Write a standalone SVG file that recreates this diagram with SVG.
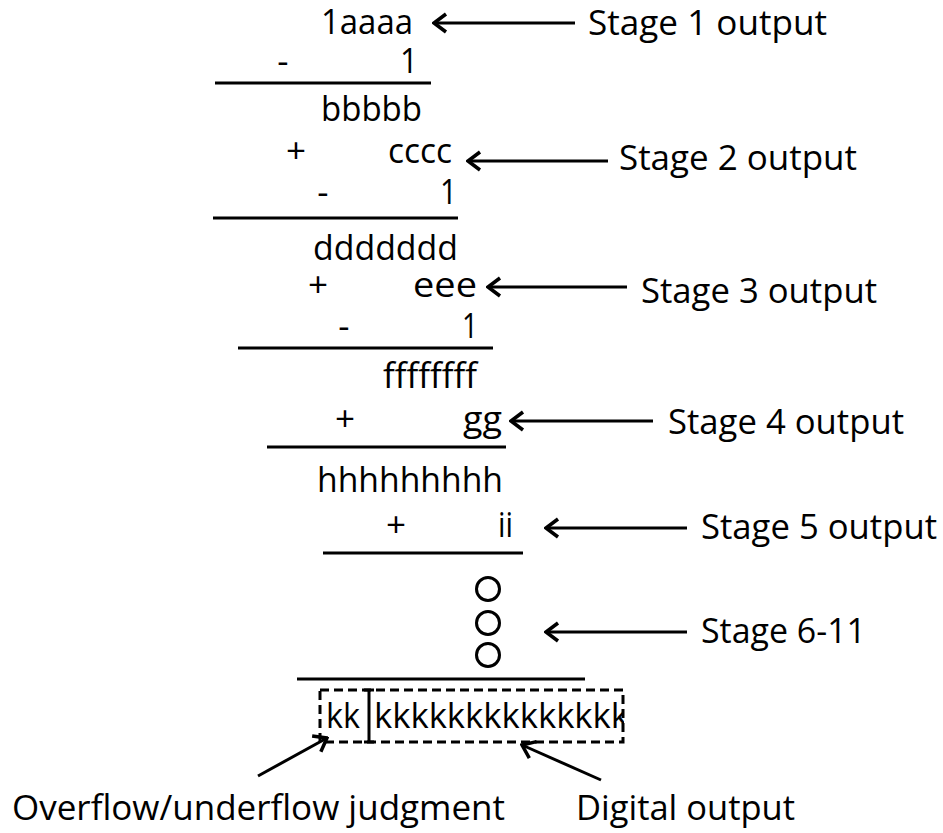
<svg xmlns="http://www.w3.org/2000/svg" width="943" height="833" viewBox="0 0 943 833">
  <style>
    text { font-family: "Open Sans", "Liberation Sans", sans-serif; font-size: 35px; fill: #000; }
    .op { text-anchor: middle; }
    .rule { stroke: #000; stroke-width: 3; fill: none; }
    .arrow { stroke: #000; stroke-width: 3; fill: none; marker-end: url(#chev); }
    .dash { stroke: #000; stroke-width: 3; fill: none; stroke-dasharray: 9 5; }
    .dot { stroke: #000; stroke-width: 3; fill: none; }
  </style>
  <defs>
    <!-- open chevron head, tip sits on the end point of the line -->
    <marker id="chev" markerUnits="userSpaceOnUse" viewBox="-16 -12 18 24" markerWidth="18" markerHeight="24" refX="0" refY="0" orient="auto">
      <path d="M-12,-9 L0,0 L-12,9" stroke="#000" stroke-width="3.5" fill="none" stroke-linejoin="miter"/>
    </marker>
    <clipPath id="boxclip">
      <rect x="318" y="688" width="306" height="56"/>
    </clipPath>
  </defs>

  <!-- arithmetic column -->
  <g id="calc">
    <text x="321" y="34" textLength="92" lengthAdjust="spacingAndGlyphs">1aaaa</text>
    <text class="op" x="283" y="73">-</text>
    <text x="400" y="73" textLength="18" lengthAdjust="spacingAndGlyphs">1</text>
    <line class="rule" x1="215" y1="83" x2="431" y2="83"/>

    <text x="321" y="121" textLength="101" lengthAdjust="spacingAndGlyphs">bbbbb</text>
    <text class="op" x="296" y="163">+</text>
    <text x="388" y="163" textLength="64" lengthAdjust="spacingAndGlyphs">cccc</text>
    <text class="op" x="323" y="204">-</text>
    <text x="440" y="204" textLength="17" lengthAdjust="spacingAndGlyphs">1</text>
    <line class="rule" x1="213" y1="218" x2="458" y2="218"/>

    <text x="313" y="260" textLength="145" lengthAdjust="spacingAndGlyphs">ddddddd</text>
    <text class="op" x="318" y="297">+</text>
    <text x="413" y="297" textLength="64" lengthAdjust="spacingAndGlyphs">eee</text>
    <text class="op" x="344" y="338">-</text>
    <text x="462" y="338" textLength="16" lengthAdjust="spacingAndGlyphs">1</text>
    <line class="rule" x1="238" y1="348" x2="493" y2="348"/>

    <text x="383" y="388" textLength="94" lengthAdjust="spacingAndGlyphs">ffffffff</text>
    <text class="op" x="345" y="431">+</text>
    <text x="463" y="431" textLength="39" lengthAdjust="spacingAndGlyphs">gg</text>
    <line class="rule" x1="267" y1="447" x2="506" y2="447"/>

    <text x="317" y="492" textLength="186" lengthAdjust="spacingAndGlyphs">hhhhhhhhh</text>
    <text class="op" x="396" y="537">+</text>
    <text x="498" y="537" textLength="15" lengthAdjust="spacingAndGlyphs">ii</text>
    <line class="rule" x1="323" y1="553" x2="523" y2="553"/>

    <circle class="dot" cx="488" cy="589" r="11.5"/>
    <circle class="dot" cx="488" cy="623" r="11.5"/>
    <circle class="dot" cx="488" cy="655" r="11.5"/>
    <line class="rule" x1="297" y1="679" x2="585" y2="679"/>
  </g>

  <!-- result word -->
  <g id="result">
    <text x="326" y="728" textLength="34" lengthAdjust="spacingAndGlyphs">kk</text>
    <text x="374" y="728" textLength="255" lengthAdjust="spacingAndGlyphs" clip-path="url(#boxclip)">kkkkkkkkkkkkkk</text>
    <rect class="dash" x="320" y="690" width="303" height="52"/>
    <path class="rule" d="M369,690 V742 M364,690 H374 M364,742 H374"/>
  </g>

  <!-- stage labels -->
  <g id="label-stage1"><text x="588" y="35" textLength="239" lengthAdjust="spacingAndGlyphs">Stage 1 output</text></g>
  <g id="label-stage2"><text x="619" y="170" textLength="238" lengthAdjust="spacingAndGlyphs">Stage 2 output</text></g>
  <g id="label-stage3"><text x="641" y="303" textLength="236" lengthAdjust="spacingAndGlyphs">Stage 3 output</text></g>
  <g id="label-stage4"><text x="668" y="434" textLength="236" lengthAdjust="spacingAndGlyphs">Stage 4 output</text></g>
  <g id="label-stage5"><text x="701" y="539" textLength="236" lengthAdjust="spacingAndGlyphs">Stage 5 output</text></g>
  <g id="label-stage6-11"><text x="701" y="643" textLength="165" lengthAdjust="spacingAndGlyphs">Stage 6-11</text></g>
  <g id="label-overflow"><text x="12" y="820" textLength="493" lengthAdjust="spacingAndGlyphs">Overflow/underflow judgment</text></g>
  <g id="label-digital"><text x="576" y="820" textLength="219" lengthAdjust="spacingAndGlyphs">Digital output</text></g>

  <!-- connectors -->
  <g id="connectors">
    <line class="arrow" x1="575" y1="23" x2="434" y2="23"/>
    <line class="arrow" x1="608" y1="161" x2="468" y2="161"/>
    <line class="arrow" x1="627" y1="287" x2="488" y2="287"/>
    <line class="arrow" x1="653" y1="421" x2="511" y2="421"/>
    <line class="arrow" x1="687" y1="528" x2="546" y2="528"/>
    <line class="arrow" x1="687" y1="632" x2="546" y2="632"/>
    <line class="arrow" x1="258" y1="776" x2="327" y2="738"/>
    <line class="arrow" x1="601" y1="780" x2="522" y2="745"/>
  </g>
</svg>
